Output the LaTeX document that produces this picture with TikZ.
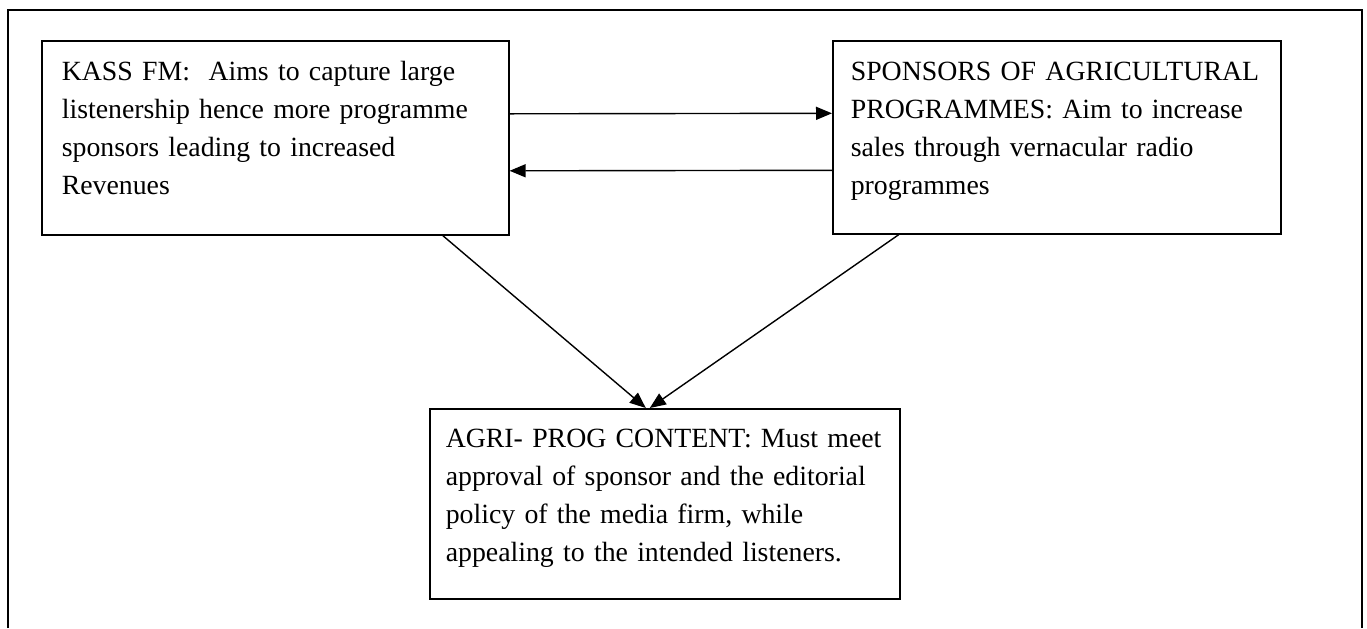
\documentclass[tikz,border=0pt]{standalone}
\usepackage{fontspec}
\setmainfont{Liberation Serif}
\usetikzlibrary{arrows.meta,positioning}
\hyphenpenalty=10000

\tikzset{
  panel/.style={draw, line width=0.8pt, anchor=north west, align=left,
    inner xsep=9pt, inner ysep=0pt, text height=20pt,
    font=\fontsize{13.9pt}{19pt}\selectfont},
  link/.style={-{Triangle[length=8pt,width=6.5pt]}, line width=0.7pt}
}

\begin{document}
\frenchspacing
\begin{tikzpicture}[x=0.5pt, y=-0.5pt]
\path[use as bounding box] (0,0) rectangle (1367,628);
% outer frame, open at the bottom
\draw[line width=1.4pt] (8,628) |- (1362,10) -- (1362,628);

\node[panel, inner xsep=10pt, text width=213.5pt, text depth=77pt] (kass) at (41,40)
  {KASS FM:\ \ Aims to capture large\\listenership hence more programme\\sponsors leading to increased\\Revenues};
\node[panel, inner xsep=9pt, text width=206pt, text depth=76.5pt] (spons) at (832,40)
  {\mbox{SPONSORS OF AGRICULTURAL}\\PROGRAMMES: Aim to increase\\sales through vernacular radio\\programmes};
\node[panel, inner xsep=8pt, text width=219pt, text height=19.5pt, text depth=75.5pt] (agri) at (429,408)
  {AGRI- PROG CONTENT: Must meet\\approval of sponsor and the editorial\\policy of the media firm, while\\appealing to the intended listeners.};

\draw[link] ([yshift=12pt]kass.east) -- ([yshift=12pt]spons.west);
\draw[link] ([yshift=-16.5pt]spons.west) -- ([yshift=-16.5pt]kass.east);
\draw[link] ([xshift=83.75pt]kass.south) -- ([xshift=-9.5pt]agri.north);
\draw[link] ([xshift=-79pt]spons.south) -- ([xshift=-7.5pt]agri.north);
\end{tikzpicture}
\end{document}
